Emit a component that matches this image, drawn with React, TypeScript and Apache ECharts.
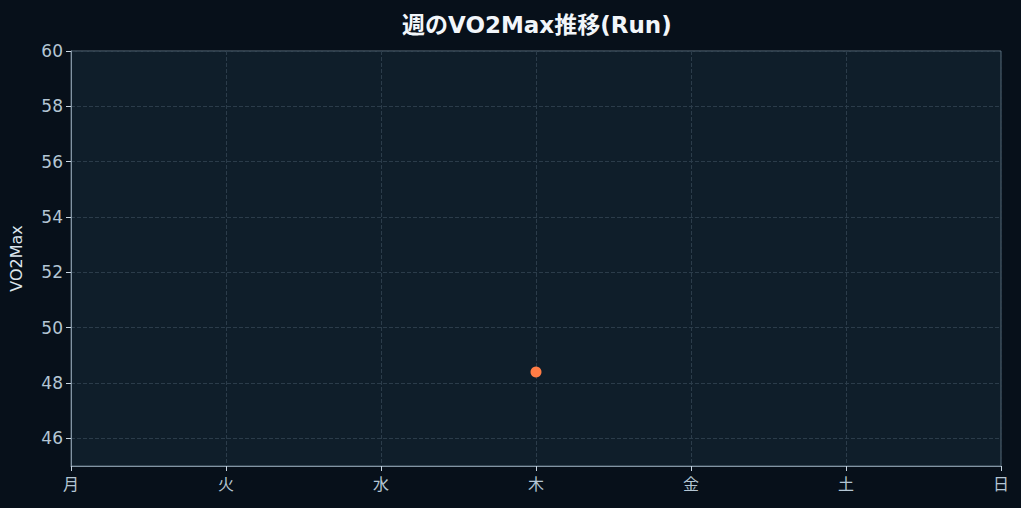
import { useEffect, useRef } from 'react'
import * as echarts from 'echarts'

const days = ['月', '火', '水', '木', '金', '土', '日']
const vo2max: (number | null)[] = [null, null, null, 48.4, null, null, null]
const yMin = 45
const yMax = 60

const FONT = "'DejaVu Sans', 'Noto Sans CJK JP', sans-serif"

export default function App() {
  const chartRef = useRef<HTMLDivElement>(null)

  useEffect(() => {
    if (!chartRef.current) return
    const chart = echarts.init(chartRef.current, null, { renderer: 'svg' })

    chart.setOption({
      animation: false,
      backgroundColor: '#07101a',
      title: {
        text: '週のVO2Max推移(Run)',
        left: 397,
        top: 8,
        textStyle: { color: '#f2f6fa', fontSize: 23, fontWeight: 'bold', fontFamily: FONT },
      },
      grid: {
        left: 71,
        right: 20,
        top: 51,
        bottom: 42,
        show: true,
        backgroundColor: '#0f1e2a',
        borderColor: '#5b6c7a',
        borderWidth: 1,
      },
      xAxis: {
        type: 'category',
        data: days,
        boundaryGap: false,
        axisLine: { lineStyle: { color: '#8294a3' } },
        axisTick: { show: true, alignWithLabel: true, lineStyle: { color: '#c8d6e2' } },
        axisLabel: { color: '#b4c6d4', fontSize: 16, fontFamily: FONT, margin: 10 },
        splitLine: { show: true, lineStyle: { color: '#2b3c4a', type: 'dashed' } },
      },
      yAxis: {
        type: 'value',
        min: yMin,
        max: yMax,
        splitNumber: 7,
        name: 'VO2Max',
        nameLocation: 'middle',
        nameGap: 47,
        nameTextStyle: { color: '#dce6ee', fontSize: 16, fontFamily: FONT },
        axisLine: { show: true, lineStyle: { color: '#8294a3' } },
        axisTick: { show: true, lineStyle: { color: '#c8d6e2' } },
        axisLabel: { color: '#b4c6d4', fontSize: 17, fontFamily: FONT, showMinLabel: false },
        splitLine: { show: true, lineStyle: { color: '#2b3c4a', type: 'dashed' } },
      },
      series: [
        {
          type: 'line',
          data: vo2max,
          symbol: 'circle',
          symbolSize: 11,
          showSymbol: true,
          itemStyle: { color: '#ff7c45' },
          lineStyle: { color: '#ff7c45', width: 2 },
          connectNulls: false,
        },
      ],
    })

    return () => {
      chart.dispose()
    }
  }, [])

  return <div ref={chartRef} style={{ width: 1021, height: 508, position: 'absolute', left: 0, top: 0 }} />
}
